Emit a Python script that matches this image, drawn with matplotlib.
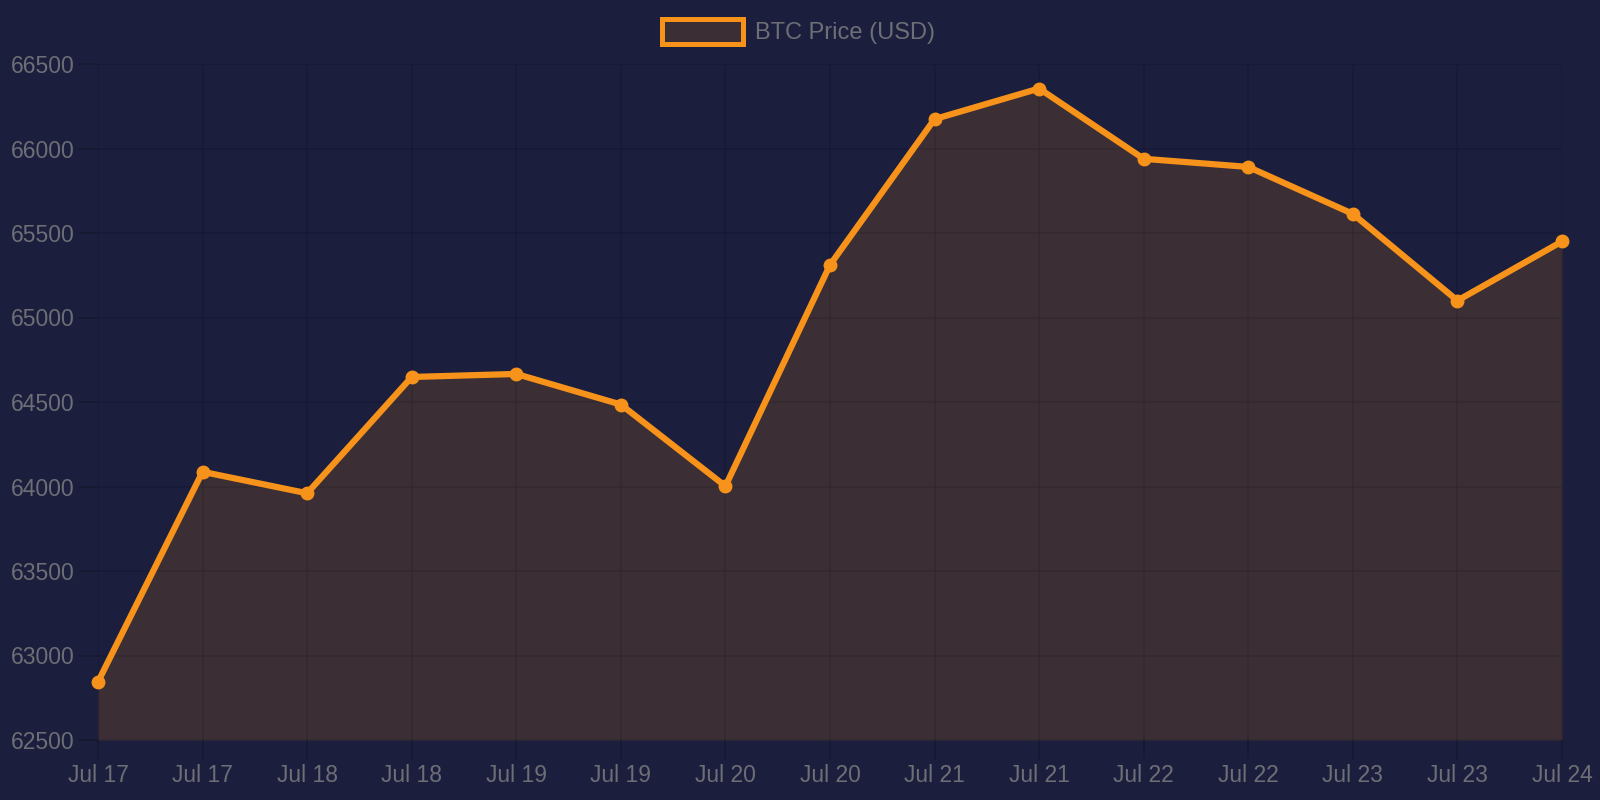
import matplotlib
matplotlib.use("Agg")
import matplotlib.pyplot as plt
from matplotlib.patches import Rectangle

labels = ["Jul 17", "Jul 17", "Jul 18", "Jul 18", "Jul 19", "Jul 19", "Jul 20", "Jul 20",
          "Jul 21", "Jul 21", "Jul 22", "Jul 22", "Jul 23", "Jul 23", "Jul 24"]
prices = [62844, 64087, 63960, 64648, 64666, 64485, 64002, 65311,
          66174, 66355, 65939, 65891, 65613, 65100, 65450]
y_ticks = [62500, 63000, 63500, 64000, 64500, 65000, 65500, 66000, 66500]
series_name = "BTC Price (USD)"

BG = "#1b1e3c"
ORANGE = "#f7931a"
FILL = "#3b2e35"
TEXT = "#6e6e76"

plt.rcParams['font.family'] = ['Liberation Sans', 'DejaVu Sans']

fig = plt.figure(figsize=(16, 8), dpi=100, facecolor=BG)
ax = fig.add_axes([0.06125, 0.075, 0.915, 0.845], facecolor=BG)

x = list(range(len(prices)))
ax.fill_between(x, prices, y_ticks[0], color=FILL, zorder=1, linewidth=0)
ax.plot(x, prices, color=ORANGE, linewidth=4.5, marker="o", markersize=9,
        zorder=3, solid_joinstyle="round", clip_on=False)

ax.set_xlim(0, len(prices) - 1)
ax.set_ylim(y_ticks[0], y_ticks[-1])
ax.set_xticks(x)
ax.set_xticklabels(labels)
ax.set_yticks(y_ticks)
ax.set_yticklabels([str(v) for v in y_ticks])

for s in ax.spines.values():
    s.set_visible(False)
ax.tick_params(axis="both", labelcolor=TEXT, labelsize=16.5, length=14, width=1.2,
               color="#161931", pad=3,
               grid_color="black", grid_alpha=0.09, grid_linewidth=1.2)
ax.grid(True)
ax.set_axisbelow(False)

# Legend (manual)
fig.patches.append(Rectangle((662 / 1600, 1 - 44 / 800), 81 / 1600, 25 / 800,
                             transform=fig.transFigure, facecolor=FILL,
                             edgecolor=ORANGE, linewidth=3.6, zorder=5))
fig.text(755 / 1600, 1 - 33 / 800, series_name, color=TEXT, fontsize=17,
         va="center", ha="left")

fig.savefig("out.png", dpi=100, facecolor=BG)
